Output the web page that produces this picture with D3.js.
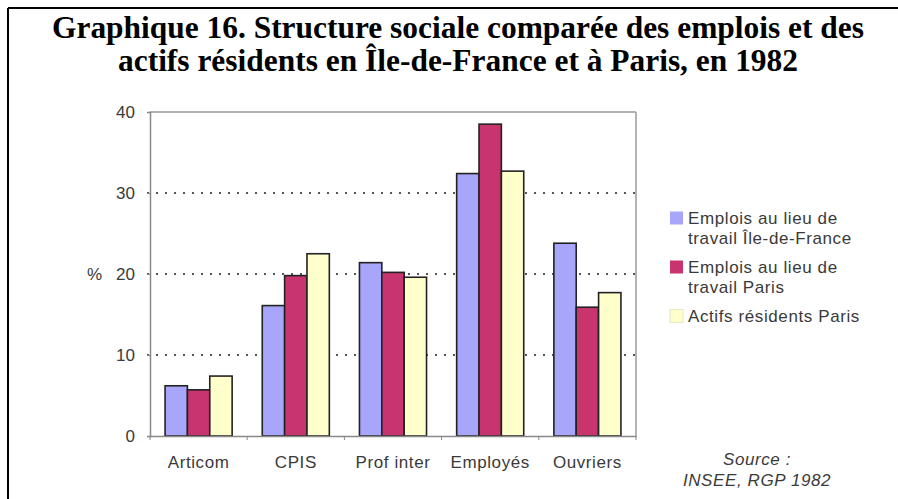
<!DOCTYPE html>
<html>
<head>
<meta charset="utf-8">
<script src="https://cdn.jsdelivr.net/npm/d3@7"></script>
<style>
  html, body { margin: 0; padding: 0; background: #fff; }
  svg { display: block; }
</style>
</head>
<body>
<svg id="chart" width="898" height="499"></svg>
<script>
const categories = ["Articom", "CPIS", "Prof inter", "Employés", "Ouvriers"];
const seriesNames = ["Emplois au lieu de travail Île-de-France", "Emplois au lieu de travail Paris", "Actifs résidents Paris"];
const legendLines = [["Emplois au lieu de", "travail Île-de-France"], ["Emplois au lieu de", "travail Paris"], ["Actifs résidents Paris"]];
const emploisIDF = [6.2, 16.1, 21.4, 32.4, 23.8];
const emploisParis = [5.7, 19.8, 20.2, 38.5, 15.9];
const actifsParis = [7.4, 22.5, 19.6, 32.7, 17.7];
const yTicks = [0, 10, 20, 30, 40];
const colors = ["#a8a6fa", "#c8356e", "#ffffcc"];
const titleLines = ["Graphique 16. Structure sociale comparée des emplois et des", "actifs résidents en Île-de-France et à Paris, en 1982"];
const sourceLines = ["Source :", "INSEE, RGP 1982"];

const series = [emploisIDF, emploisParis, actifsParis];
const svg = d3.select("#chart");
const sans = "'Liberation Sans', Arial, Helvetica, sans-serif";
const fs = 17, ls = 0.6, txt = "#3a3a3a";

// frame
svg.append("line").attr("x1", 8).attr("x2", 898).attr("y1", 8).attr("y2", 8).attr("stroke", "#000").attr("stroke-width", 2);
svg.append("line").attr("x1", 8).attr("x2", 8).attr("y1", 8).attr("y2", 499).attr("stroke", "#000").attr("stroke-width", 2);

// title
const titleW = [812, 680];
const titleY = [38, 71];
titleLines.forEach((t, i) => {
  svg.append("text").attr("x", 458).attr("y", titleY[i]).attr("text-anchor", "middle")
    .attr("font-family", "'Liberation Serif', 'Times New Roman', serif").attr("font-weight", "bold")
    .attr("font-size", 31).attr("fill", "#000")
    .attr("textLength", titleW[i]).attr("lengthAdjust", "spacingAndGlyphs").text(t);
});

const pLeft = 150, pRight = 636, pTop = 112, pBottom = 436;
const x = d3.scaleBand().domain(categories).range([pLeft, pRight]).paddingInner(0.31).paddingOuter(0.155);
const xs = d3.scaleBand().domain(d3.range(series.length)).range([0, x.bandwidth()]);
const y = d3.scaleLinear().domain([0, 40]).range([pBottom, pTop]);

// gridlines
svg.append("g").selectAll("line").data(yTicks.filter(d => d > 0 && d < 40)).join("line")
  .attr("x1", pLeft - 3).attr("x2", pRight).attr("y1", d => y(d)).attr("y2", d => y(d))
  .attr("stroke", "#555").attr("stroke-width", 1.8).attr("stroke-dasharray", "2,7");

// plot frame top/right
svg.append("line").attr("x1", pLeft).attr("x2", pRight).attr("y1", pTop).attr("y2", pTop).attr("stroke", "#999").attr("stroke-width", 1.5);
svg.append("line").attr("x1", pRight).attr("x2", pRight).attr("y1", pTop).attr("y2", pBottom).attr("stroke", "#999").attr("stroke-width", 1.5);

// y axis
const yAxis = svg.append("g").attr("transform", `translate(${pLeft},0)`)
  .call(d3.axisLeft(y).tickValues(yTicks).tickSize(3).tickPadding(12));
yAxis.select(".domain").attr("stroke", "#888").attr("stroke-width", 1.5);
yAxis.selectAll(".tick line").attr("stroke", "#888");
yAxis.selectAll("text").attr("font-family", sans).attr("font-size", fs).attr("fill", txt).attr("dy", "0.35em");

svg.append("text").attr("x", 87).attr("y", y(20) + 6).attr("font-family", sans)
  .attr("font-size", fs).attr("fill", txt).text("%");

// bars
const groups = svg.append("g").selectAll("g").data(categories).join("g")
  .attr("transform", d => `translate(${x(d)},0)`);
groups.selectAll("rect").data((c, ci) => series.map((s, si) => ({ si, v: s[ci] }))).join("rect")
  .attr("x", d => xs(d.si)).attr("width", xs.bandwidth())
  .attr("y", d => y(d.v)).attr("height", d => y(0) - y(d.v))
  .attr("fill", d => colors[d.si]).attr("stroke", "#222").attr("stroke-width", 1.6);

// x axis
const xAxis = svg.append("g").attr("transform", `translate(0,${pBottom})`)
  .call(d3.axisBottom(x).tickSize(0).tickPadding(20));
xAxis.select(".domain").attr("stroke", "#888").attr("stroke-width", 1.5);
xAxis.selectAll("text").attr("font-family", sans).attr("font-size", fs).attr("fill", txt)
  .attr("letter-spacing", ls).attr("y", 32).attr("dy", 0);
// boundary ticks
svg.append("g").selectAll("line").data(d3.range(categories.length + 1)).join("line")
  .attr("x1", i => pLeft + i * x.step()).attr("x2", i => pLeft + i * x.step())
  .attr("y1", pBottom).attr("y2", pBottom + 4).attr("stroke", "#888").attr("stroke-width", 1);

// legend
const legY = [218, 267, 316];
const leg = svg.append("g");
legendLines.forEach((lines, i) => {
  leg.append("rect").attr("x", 670).attr("y", legY[i] - 6.5).attr("width", 13).attr("height", 13)
    .attr("fill", colors[i]).attr("stroke", i === 2 ? "#e6e6c0" : "none");
  lines.forEach((t, j) => {
    leg.append("text").attr("x", 688).attr("y", legY[i] + 6 + j * 20)
      .attr("font-family", sans).attr("font-size", fs).attr("letter-spacing", ls).attr("fill", txt).text(t);
  });
});

// source
sourceLines.forEach((t, i) => {
  svg.append("text").attr("x", 757).attr("y", 465 + i * 21).attr("text-anchor", "middle")
    .attr("font-family", sans).attr("font-style", "italic").attr("letter-spacing", ls)
    .attr("font-size", fs).attr("fill", txt).text(t);
});
</script>
</body>
</html>
